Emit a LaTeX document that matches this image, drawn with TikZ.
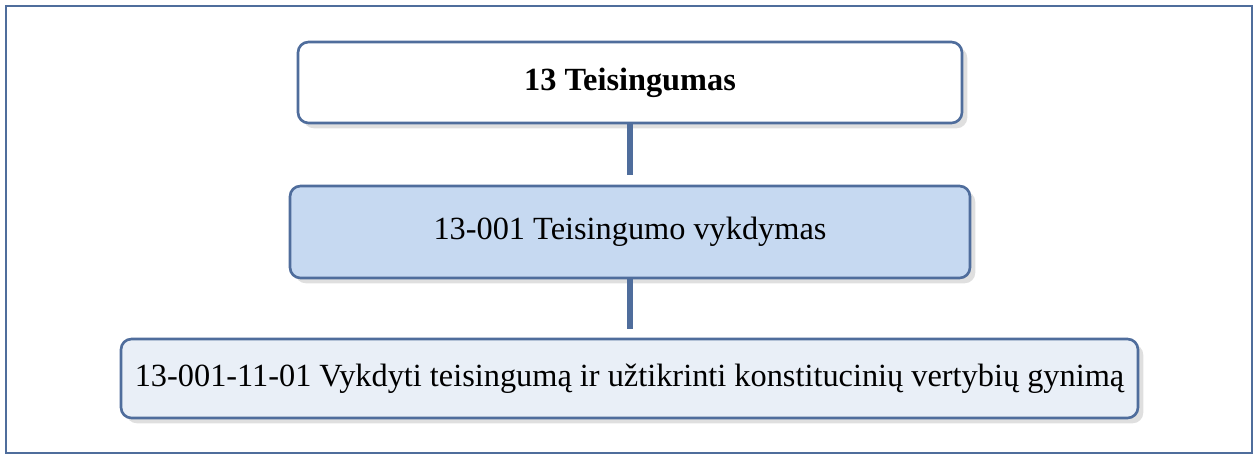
\documentclass[tikz,border=0pt]{standalone}
\usepackage{fontspec}
\setmainfont{Liberation Serif}
\usetikzlibrary{shadows}
\definecolor{frameblue}{HTML}{4F6D9C}
\definecolor{midfill}{HTML}{C6D9F1}
\definecolor{lowfill}{HTML}{E9EFF7}
\tikzset{
 levelbox/.style={draw=frameblue,line width=0.75pt,rounded corners=3pt,
   minimum height=#1,drop shadow={shadow xshift=1.5pt,shadow yshift=-1.5pt,opacity=0.25},
   font=\fontsize{9.2}{11}\selectfont,inner sep=0pt},
 link/.style={draw=frameblue,line width=1.5pt}
}
\begin{document}
\begin{tikzpicture}
 \useasboundingbox (0,0) rectangle (12.55,4.55);
 \draw[frameblue,line width=0.7pt](0.06,0.02) rectangle (12.52,4.49);
 \node[levelbox=0.81cm,fill=white,minimum width=6.64cm,font=\fontsize{9.2}{11}\selectfont\bfseries] (prog) at (6.30,3.725) {13 Teisingumas};
 \node[levelbox=0.92cm,fill=midfill,minimum width=6.80cm] (goal) at (6.30,2.23) {13-001 Teisingumo vykdymas};
 \node[levelbox=0.79cm,fill=lowfill,minimum width=10.17cm] (task) at (6.295,0.765) {13-001-11-01 Vykdyti teisingumą ir užtikrinti konstitucinių vertybių gynimą};
 \draw[link] (prog.south) -- ++(0,-0.51);
 \draw[link] (goal.south) -- ++(0,-0.50);
\end{tikzpicture}
\end{document}
